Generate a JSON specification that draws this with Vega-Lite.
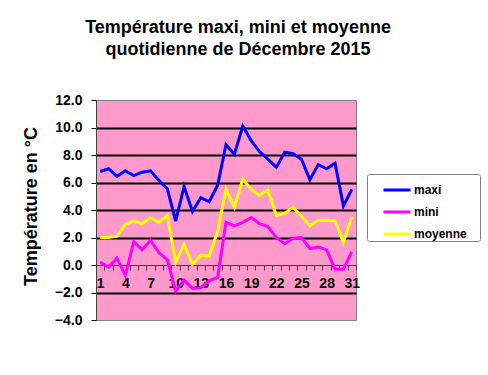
{
  "$schema": "https://vega.github.io/schema/vega-lite/v6.json",
  "width": 260,
  "height": 220,
  "autosize": {"type": "none"},
  "padding": {"left": 96, "top": 100, "right": 132, "bottom": 55},
  "background": "white",
  "title": {
    "text": ["Température maxi, mini et moyenne", "quotidienne de Décembre 2015"],
    "font": "Liberation Sans",
    "fontSize": 18,
    "fontWeight": "bold",
    "color": "black",
    "anchor": "middle",
    "lineHeight": 22,
    "dx": 12,
    "offset": 34
  },
  "data": {
    "values": [
      {"day": 1, "maxi": 6.8, "mini": 0.2, "moyenne": 2.0},
      {"day": 2, "maxi": 7.0, "mini": -0.15, "moyenne": 2.0},
      {"day": 3, "maxi": 6.45, "mini": 0.5, "moyenne": 2.1},
      {"day": 4, "maxi": 6.85, "mini": -0.75, "moyenne": 2.95},
      {"day": 5, "maxi": 6.5, "mini": 1.7, "moyenne": 3.2},
      {"day": 6, "maxi": 6.75, "mini": 1.1, "moyenne": 3.0},
      {"day": 7, "maxi": 6.85, "mini": 1.8, "moyenne": 3.45},
      {"day": 8, "maxi": 6.15, "mini": 0.9, "moyenne": 3.1},
      {"day": 9, "maxi": 5.55, "mini": 0.4, "moyenne": 3.6},
      {"day": 10, "maxi": 3.2, "mini": -1.9, "moyenne": 0.2},
      {"day": 11, "maxi": 5.7, "mini": -1.1, "moyenne": 1.5},
      {"day": 12, "maxi": 3.9, "mini": -1.7, "moyenne": 0.05},
      {"day": 13, "maxi": 4.9, "mini": -1.65, "moyenne": 0.7},
      {"day": 14, "maxi": 4.6, "mini": -1.15, "moyenne": 0.65},
      {"day": 15, "maxi": 5.8, "mini": -0.9, "moyenne": 2.45},
      {"day": 16, "maxi": 8.75, "mini": 3.1, "moyenne": 5.5},
      {"day": 17, "maxi": 8.05, "mini": 2.85, "moyenne": 4.2},
      {"day": 18, "maxi": 10.1, "mini": 3.1, "moyenne": 6.25},
      {"day": 19, "maxi": 9.05, "mini": 3.45, "moyenne": 5.5},
      {"day": 20, "maxi": 8.25, "mini": 3.0, "moyenne": 5.05},
      {"day": 21, "maxi": 7.7, "mini": 2.8, "moyenne": 5.45},
      {"day": 22, "maxi": 7.1, "mini": 2.0, "moyenne": 3.6},
      {"day": 23, "maxi": 8.2, "mini": 1.55, "moyenne": 3.75},
      {"day": 24, "maxi": 8.1, "mini": 1.95, "moyenne": 4.2},
      {"day": 25, "maxi": 7.7, "mini": 2.0, "moyenne": 3.55},
      {"day": 26, "maxi": 6.2, "mini": 1.2, "moyenne": 2.85},
      {"day": 27, "maxi": 7.3, "mini": 1.3, "moyenne": 3.25},
      {"day": 28, "maxi": 7.0, "mini": 1.1, "moyenne": 3.25},
      {"day": 29, "maxi": 7.4, "mini": -0.3, "moyenne": 3.2},
      {"day": 30, "maxi": 4.3, "mini": -0.3, "moyenne": 1.65},
      {"day": 31, "maxi": 5.5, "mini": 0.95, "moyenne": 3.5}
    ]
  },
  "transform": [{"fold": ["maxi", "mini", "moyenne"], "as": ["serie", "temp"]}],
  "mark": {"type": "line", "strokeWidth": 3, "strokeJoin": "miter"},
  "encoding": {
    "x": {
      "field": "day",
      "type": "ordinal",
      "scale": {"type": "band", "paddingInner": 0, "paddingOuter": 0},
      "axis": {
        "title": null,
        "orient": "bottom",
        "offset": -55,
        "labelAngle": 0,
        "labelExpr": "(datum.value - 1) % 3 == 0 ? datum.label : ''",
        "labelOverlap": false,
        "tickBand": "extent",
        "tickSize": 5,
        "tickColor": "#404040",
        "domainColor": "#404040",
        "labelFont": "Liberation Sans",
        "labelFontSize": 14,
        "labelFontWeight": "bold",
        "labelColor": "black",
        "labelPadding": 6,
        "grid": false
      }
    },
    "y": {
      "field": "temp",
      "type": "quantitative",
      "scale": {"domain": [-4, 12], "nice": false, "zero": false},
      "axis": {
        "title": "Température en °C",
        "titleFont": "Liberation Sans",
        "titleFontSize": 18,
        "titleFontWeight": "bold",
        "titleColor": "black",
        "titlePadding": 14,
        "titleY": 106,
        "values": [-4, -2, 0, 2, 4, 6, 8, 10, 12],
        "format": ".1f",
        "labelFont": "Liberation Sans",
        "labelFontSize": 14,
        "labelFontWeight": "bold",
        "labelColor": "black",
        "labelPadding": 9,
        "tickSize": 5,
        "tickColor": "black",
        "domainColor": "#404040",
        "grid": true,
        "gridColor": {"condition": {"test": "datum.value === 0 || datum.value === 12 || datum.value === -4", "value": "transparent"}, "value": "black"},
        "gridWidth": 2
      }
    },
    "color": {
      "field": "serie",
      "type": "nominal",
      "scale": {"domain": ["maxi", "mini", "moyenne"], "range": ["#0000FF", "#FF00FF", "#FFFF00"]},
      "legend": {
        "title": "\u00a0",
        "titleOrient": "right",
        "titlePadding": 12,
        "titleFontSize": 1,
        "orient": "none",
        "legendX": 271,
        "legendY": 74,
        "symbolType": "stroke",
        "symbolSize": 729,
        "symbolStrokeWidth": 3,
        "symbolOffset": 14,
        "labelFont": "Liberation Sans",
        "labelFontSize": 12,
        "labelFontWeight": "bold",
        "labelColor": "black",
        "labelOffset": 2,
        "rowPadding": 1,
        "padding": 1,
        "strokeColor": "#808080",
        "fillColor": "white",
        "cornerRadius": 2
      }
    }
  },
  "config": {
    "view": {"fill": "#FF99CC", "stroke": "#808080", "strokeWidth": 1}
  }
}
